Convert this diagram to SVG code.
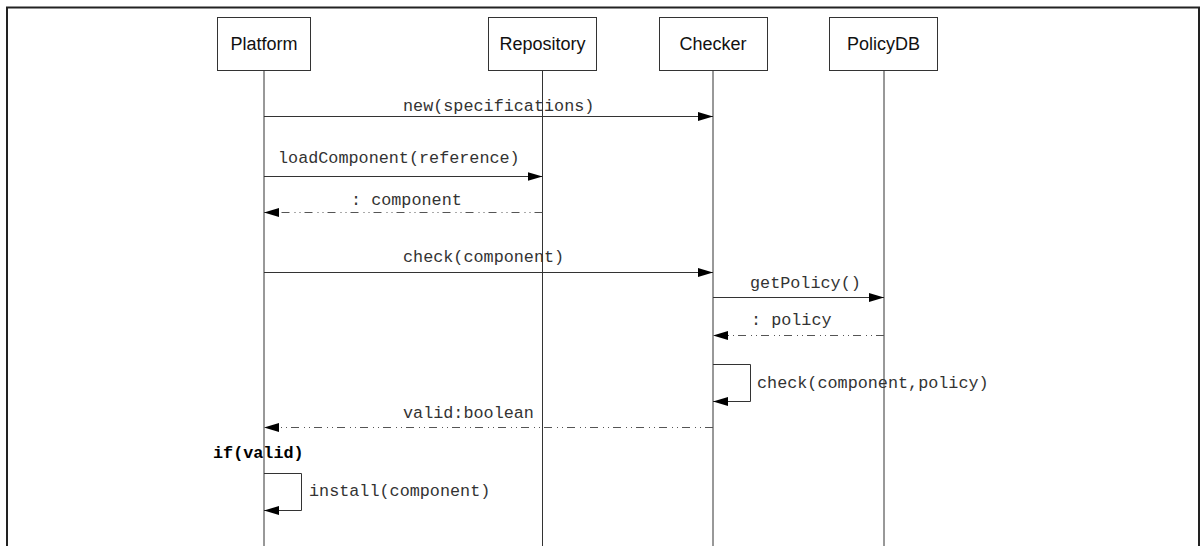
<svg xmlns="http://www.w3.org/2000/svg" width="1200" height="546" viewBox="0 0 1200 546">
<style>
.box{fill:#fff;stroke:#333;stroke-width:1}
.lbl{font-family:"Liberation Sans",Arial,sans-serif;font-size:18px;fill:#111;text-anchor:middle}
.life{stroke:#333;stroke-width:1;fill:none}
.msg{stroke:#333;stroke-width:1;fill:none}
.ret{stroke:#555;stroke-width:1;fill:none;stroke-dasharray:8 4 1 4 1 5}
.t{font-family:"Liberation Mono","Courier New",monospace;font-size:16.8px;fill:#333}
.b{font-weight:bold;fill:#000}
</style>
<defs>
<marker id="ah" viewBox="0 0 15 9" refX="15" refY="4.5" markerWidth="15" markerHeight="9" markerUnits="userSpaceOnUse" orient="auto">
<path d="M0,0 L15,4.5 L0,9 z" fill="#000"/>
</marker>
</defs>
<rect x="7" y="7.5" width="1192" height="600" fill="none" stroke="#222" stroke-width="2"/>
<g id="platform">
<line class="life" x1="264" y1="70" x2="264" y2="546"/>
<rect class="box" x="217.5" y="17.5" width="93" height="53"/>
<text class="lbl" x="264" y="50">Platform</text>
</g>
<g id="repository">
<line class="life" x1="542.5" y1="70" x2="542.5" y2="546"/>
<rect class="box" x="488.5" y="17.5" width="108" height="53"/>
<text class="lbl" x="542.5" y="50">Repository</text>
</g>
<g id="checker">
<line class="life" x1="713" y1="70" x2="713" y2="546"/>
<rect class="box" x="659.5" y="17.5" width="108" height="53"/>
<text class="lbl" x="713" y="50">Checker</text>
</g>
<g id="policydb">
<line class="life" x1="884" y1="70" x2="884" y2="546"/>
<rect class="box" x="829.5" y="17.5" width="108" height="53"/>
<text class="lbl" x="883.5" y="50">PolicyDB</text>
</g>
<g id="connectors">
<line class="msg" x1="264" y1="116.5" x2="713" y2="116.5" marker-end="url(#ah)"/>
<text class="t" x="403" y="111">new(specifications)</text>
<line class="msg" x1="264" y1="176.5" x2="542.5" y2="176.5" marker-end="url(#ah)"/>
<text class="t" x="278" y="163">loadComponent(reference)</text>
<line class="ret" x1="542.5" y1="212.5" x2="264" y2="212.5" marker-end="url(#ah)"/>
<text class="t" x="351" y="205">: component</text>
<line class="msg" x1="264" y1="272.5" x2="713" y2="272.5" marker-end="url(#ah)"/>
<text class="t" x="403" y="262">check(component)</text>
<line class="msg" x1="713" y1="297.5" x2="884" y2="297.5" marker-end="url(#ah)"/>
<text class="t" x="750" y="288">getPolicy()</text>
<line class="ret" x1="884" y1="335.5" x2="713" y2="335.5" marker-end="url(#ah)"/>
<text class="t" x="751" y="325">: policy</text>
<polyline class="msg" points="713,364.5 750.5,364.5 750.5,401.5 713,401.5" marker-end="url(#ah)"/>
<text class="t" x="757" y="388">check(component,policy)</text>
<line class="ret" x1="713" y1="427.5" x2="264" y2="427.5" marker-end="url(#ah)"/>
<text class="t" x="403" y="418">valid:boolean</text>
<text class="t b" x="213" y="458">if(valid)</text>
<polyline class="msg" points="264,473.5 301.5,473.5 301.5,510.5 264,510.5" marker-end="url(#ah)"/>
<text class="t" x="309" y="496">install(component)</text>
</g>
</svg>
